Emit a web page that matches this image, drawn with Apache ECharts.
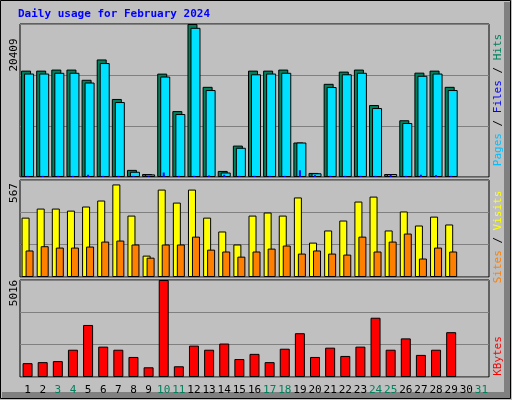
<!DOCTYPE html><html><head><meta charset="utf-8">
<script src="https://cdn.jsdelivr.net/npm/echarts@6/dist/echarts.min.js"></script>
<style>html,body{margin:0;padding:0;background:#c0c0c0}#c{width:512px;height:400px}</style></head><body><div id="c"></div>
<script>
const days = Array.from({length:31},(_,i)=>String(i+1));
const weekend = ['3','4','10','11','17','18','24','25','31'];
const hits  = [14190,14190,14330,14330,12970,15680,10410,950,400,13790,8790,20409,12030,810,4190,14190,14190,14330,4600,540,12430,14060,14330,9600,400,7570,13920,14190,12030,null,null];
const files = [13800,13800,13900,13900,12600,15200,10000,700,350,13400,8400,19900,11600,600,3900,13700,13800,13900,4600,500,12000,13700,13900,9200,400,7200,13500,13800,11600,null,null];
const pages = [150,150,150,150,300,150,150,150,100,600,150,150,200,300,150,150,150,150,900,250,150,150,150,150,300,150,300,250,150,null,null];
const visits= [347,400,400,388,412,447,541,359,125,511,435,511,347,266,190,359,377,359,465,201,272,330,441,470,272,383,301,353,307,null,null];
const sites = [155,180,172,172,178,207,213,190,113,190,190,236,160,149,119,149,166,184,137,155,137,131,236,149,207,254,108,172,149,null,null];
const kbytes= [716,769,822,1410,2690,1570,1410,1036,502,5016,555,1623,1410,1730,929,1196,769,1463,2264,1036,1517,1089,1570,3065,1410,1997,1143,1410,2318,null,null];
const maxHits=20409, maxVisits=567, maxKB=5016;

const font='DejaVu Sans Mono';
const tops=[24,180,280], hs=[153,97,97];
const grids=tops.map((t,i)=>({left:20,width:469,top:t,height:hs[i],show:true,backgroundColor:'#c0c0c0',borderColor:'#000',borderWidth:1}));
function xa(i,show){return {gridIndex:i,type:'category',data:days,axisTick:{show:false},axisLine:{show:false},
  axisLabel:{show:!!show,interval:0,fontFamily:font,fontSize:11,margin:8,color:(v)=>weekend.includes(v)?'#00805c':'#000'}};}
function ya(i,m){return {gridIndex:i,type:'value',min:0,max:m,interval:m/3,axisLabel:{show:false},axisLine:{show:false},axisTick:{show:false},
  splitLine:{lineStyle:{color:'#808080',width:1}}};}
const bs={borderColor:'#000',borderWidth:1};
const opt={animation:false,backgroundColor:'#c0c0c0',
 grid:grids,xAxis:[xa(0),xa(1),xa(2,true),xa(0)],yAxis:[ya(0,maxHits),ya(1,maxVisits),ya(2,maxKB),Object.assign(ya(0,maxHits),{splitLine:{show:false}})],
 series:[
  {type:'bar',xAxisIndex:0,yAxisIndex:0,data:hits,barWidth:10,barGap:'-70%',itemStyle:Object.assign({color:'#00805c'},bs)},
  {type:'bar',xAxisIndex:0,yAxisIndex:0,data:files,barWidth:10,barGap:'-70%',itemStyle:Object.assign({color:'#00e0ff'},bs)},
  {type:'bar',xAxisIndex:3,yAxisIndex:3,data:pages,barWidth:2,itemStyle:{color:'#0000ff'},z:3},
  {type:'bar',xAxisIndex:1,yAxisIndex:1,data:visits,barWidth:8,barGap:'-50%',itemStyle:Object.assign({color:'#ffff00'},bs)},
  {type:'bar',xAxisIndex:1,yAxisIndex:1,data:sites,barWidth:8,barGap:'-50%',itemStyle:Object.assign({color:'#ff8000'},bs)},
  {type:'bar',xAxisIndex:2,yAxisIndex:2,data:kbytes,barWidth:10,itemStyle:Object.assign({color:'#ff0000'},bs)}
 ],
 graphic:[
  {type:'rect',shape:{x:0.5,y:0.5,width:510,height:398},style:{fill:null,stroke:'#000',lineWidth:1},z:-1},
  {type:'rect',shape:{x:504,y:2,width:6,height:396},style:{fill:'#808080'},z:-1},
  {type:'rect',shape:{x:2,y:392,width:508,height:6},style:{fill:'#808080'},z:-1},
  {type:'text',left:18,top:9,style:{text:'Daily usage for February 2024',fill:'#0000ff',font:'bold 11px '+font}},
  {type:'text',x:9,y:55,rotation:Math.PI/2,style:{text:String(maxHits),fill:'#000',font:'11px '+font,align:'center',verticalAlign:'top'}},
  {type:'text',x:9,y:193,rotation:Math.PI/2,style:{text:String(maxVisits),fill:'#000',font:'11px '+font,align:'center',verticalAlign:'top'}},
  {type:'text',x:9,y:293,rotation:Math.PI/2,style:{text:String(maxKB),fill:'#000',font:'11px '+font,align:'center',verticalAlign:'top'}},
  {type:'text',x:493,y:100,rotation:Math.PI/2,style:{text:'{a|Pages}{s| / }{b|Files}{s| / }{c|Hits}',align:'center',verticalAlign:'top',
    rich:{a:{fill:'#00c0ff',font:'11px '+font},s:{fill:'#000',font:'11px '+font},b:{fill:'#0000ff',font:'11px '+font},c:{fill:'#00805c',font:'11px '+font}}}},
  {type:'text',x:493,y:237,rotation:Math.PI/2,style:{text:'{a|Sites}{s| / }{b|Visits}',align:'center',verticalAlign:'top',
    rich:{a:{fill:'#ff8000',font:'11px '+font},s:{fill:'#000',font:'11px '+font},b:{fill:'#ffff00',font:'11px '+font}}}},
  {type:'text',x:493,y:356,rotation:Math.PI/2,style:{text:'KBytes',fill:'#ff0000',font:'11px '+font,align:'center',verticalAlign:'top'}}
 ]};
echarts.init(document.getElementById('c')).setOption(opt);
</script></body></html>
